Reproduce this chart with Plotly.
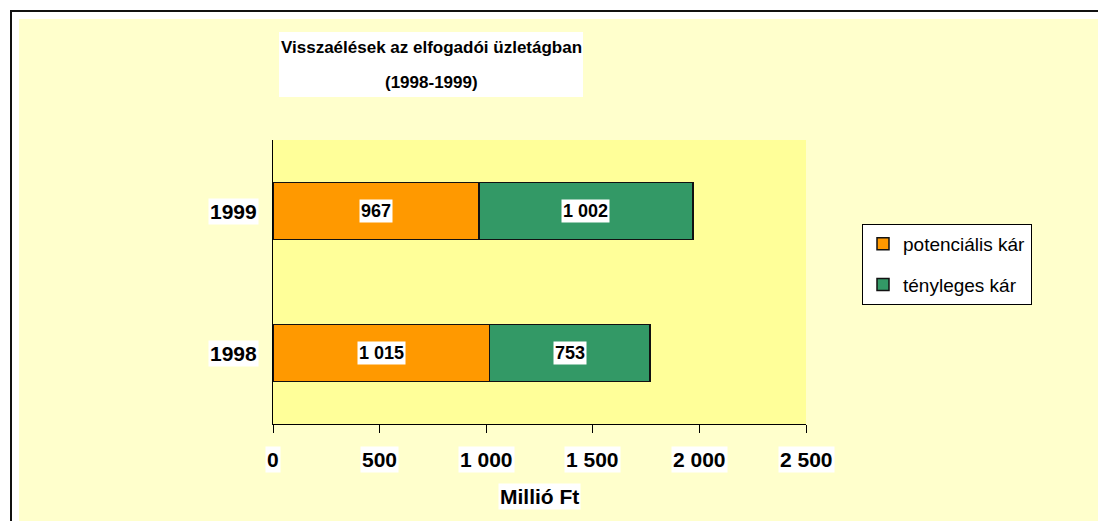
import plotly.graph_objects as go

# ---- data ----
years = ["1998", "1999"]
potencialis = [1015, 967]
tenyleges = [753, 1002]
series_names = ["potenciális kár", "tényleges kár"]
x_ticks = [0, 500, 1000, 1500, 2000, 2500]
title_lines = ["Visszaélések az elfogadói üzletágban", "(1998-1999)"]
x_title = "Millió Ft"

# ---- layout constants (pixels, window coordinates) ----
OFF = 8                      # page body margin
W, H = 1098, 513             # figure size
L, T = 273 - OFF, 140 - OFF  # plot area top-left
PW, PH = 533, 284
R, B = W - L - PW, H - T - PH
FONT = "Liberation Sans, Arial, sans-serif"
ORANGE = "#FF9900"
GREEN = "#339966"


def px_x(p):
    return (p - OFF - L) / PW


def px_y(p):
    return (T + PH - (p - OFF)) / PH


def fmt(v):
    return f"{v:,}".replace(",", " ")


fig = go.Figure()
fig.add_trace(go.Bar(
    y=years, x=potencialis, orientation="h", name=series_names[0],
    legendgroup="a",
    marker=dict(color=ORANGE, line=dict(color="#111111", width=1.5)),
    hoverinfo="x+y",
))
fig.add_trace(go.Bar(
    y=years, x=tenyleges, orientation="h", name=series_names[1],
    legendgroup="b",
    marker=dict(color=GREEN, line=dict(color="#111111", width=1.5)),
    hoverinfo="x+y",
))

annotations = []
# bar value labels with white boxes
for i, y in enumerate(years):
    p, t = potencialis[i], tenyleges[i]
    for cx, v in ((p / 2, p), (p + t / 2, t)):
        annotations.append(dict(
            x=cx, y=i, xref="x", yref="y", text=fmt(v), showarrow=False,
            xanchor="center", yanchor="middle",
            bgcolor="white", borderpad=1,
            font=dict(family=FONT, size=18, color="black", weight="bold"),
        ))
# category labels
for i, y in enumerate(years):
    annotations.append(dict(
        x=px_x(259), y=i, xref="paper", yref="y", text=y, showarrow=False,
        xanchor="right", yanchor="middle", bgcolor="white", borderpad=1,
        font=dict(family=FONT, size=21, color="black", weight="bold"),
    ))
# x tick labels
for v in x_ticks:
    annotations.append(dict(
        x=v, y=px_y(459), xref="x", yref="paper", text=fmt(v), showarrow=False,
        xanchor="center", yanchor="middle",
        bgcolor="white", borderpad=1,
        font=dict(family=FONT, size=21, color="black", weight="bold"),
    ))
# axis title
annotations.append(dict(
    x=0.5, y=px_y(496), xref="paper", yref="paper", text=x_title, showarrow=False,
    xanchor="center", yanchor="middle",
    bgcolor="white", borderpad=1,
    font=dict(family=FONT, size=21, color="black", weight="bold"),
))
# title lines
for txt, yy in zip(title_lines, (47, 83)):
    annotations.append(dict(
        x=px_x(431), y=px_y(yy), xref="paper", yref="paper", text=txt,
        showarrow=False, xanchor="center", yanchor="middle",
        font=dict(family=FONT, size=17, color="black", weight="bold"),
    ))

shapes = [
    # white outer strips
    dict(type="rect", xref="paper", yref="paper", x0=-1, x1=2,
         y0=px_y(19), y1=2, fillcolor="white", line=dict(width=0), layer="below"),
    dict(type="rect", xref="paper", yref="paper", x0=-1, x1=px_x(19),
         y0=-1, y1=2, fillcolor="white", line=dict(width=0), layer="below"),
    # frame (top and left edges visible)
    dict(type="line", xref="paper", yref="paper", x0=px_x(10), x1=2,
         y0=px_y(11), y1=px_y(11), line=dict(color="#111111", width=2),
         layer="above"),
    dict(type="line", xref="paper", yref="paper", x0=px_x(11), x1=px_x(11),
         y0=-1, y1=px_y(10), line=dict(color="#111111", width=2),
         layer="above"),
    # title box
    dict(type="rect", xref="paper", yref="paper", x0=px_x(279), x1=px_x(583),
         y0=px_y(97), y1=px_y(32), fillcolor="white", line=dict(width=0),
         layer="below"),
]

fig.update_layout(
    width=W, height=H, autosize=False,
    margin=dict(l=L, r=R, t=T, b=B, pad=0),
    paper_bgcolor="#FFFFCC",
    plot_bgcolor="#FFFF99",
    barmode="stack",
    bargap=0.6,
    showlegend=True,
    legend=dict(
        x=px_x(862), y=px_y(224), xanchor="left", yanchor="top",
        bgcolor="white", bordercolor="black", borderwidth=1,
        font=dict(family=FONT, size=19, color="black"),
        traceorder="grouped", tracegroupgap=13,
    ),
    xaxis=dict(
        range=[0, 2500], tickvals=x_ticks, showticklabels=False,
        ticks="outside", ticklen=8, tickcolor="black", tickwidth=1,
        showline=True, linecolor="black", linewidth=1,
        showgrid=False, zeroline=False, fixedrange=True,
    ),
    yaxis=dict(
        type="category", categoryorder="array", categoryarray=years,
        range=[-0.5, 1.5], autorange=False,
        showticklabels=False, ticks="",
        showline=True, linecolor="black", linewidth=1,
        showgrid=False, zeroline=False, fixedrange=True,
    ),
    annotations=annotations,
    shapes=shapes,
)

fig.write_html("out.html")
